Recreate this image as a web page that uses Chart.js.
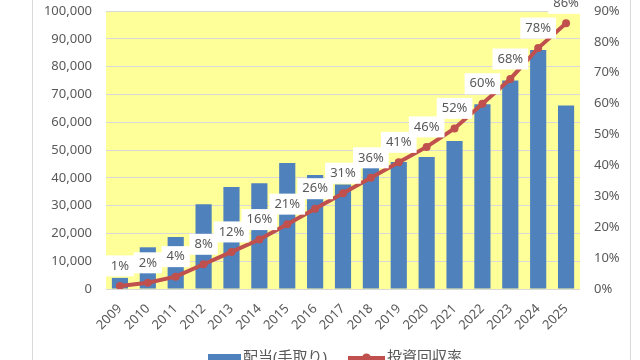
<!DOCTYPE html>
<html>
<head>
<meta charset="utf-8">
<script src="https://cdn.jsdelivr.net/npm/chart.js@4"></script>
<style>
    html, body { margin: 0; padding: 0; background: #fff; overflow: hidden; }
    #wrap { position: relative; width: 640px; height: 360px; }
</style>
</head>
<body>
<div id="wrap"><canvas id="dividendChart" width="640" height="360"></canvas></div>
<script>
const years = ['2009', '2010', '2011', '2012', '2013', '2014', '2015', '2016', '2017',
               '2018', '2019', '2020', '2021', '2022', '2023', '2024', '2025'];
const dividends = [4000, 15000, 18700, 30500, 36700, 38000, 45300, 41000, 37600,
                   43500, 45700, 47500, 53200, 66500, 75000, 86000, 66000];
const recoveryRate = [1, 2, 4, 8, 12, 16, 21, 26, 31, 36, 41, 46, 52, 60, 68, 78, 86];
const seriesNames = ['配当(手取り)', '投資回収率'];

const textColor = '#595959';
const fontFamily = "'Noto Sans', 'Noto Sans CJK JP', sans-serif";

Chart.defaults.font.family = fontFamily;
Chart.defaults.font.size = 13;
Chart.defaults.color = textColor;

// yellow plot area + chart frame lines
const backgroundPlugin = {
    id: 'plotBackground',
    beforeDraw(chart) {
        const { ctx, chartArea } = chart;
        ctx.save();
        ctx.fillStyle = '#FFFF99';
        ctx.fillRect(chartArea.left, chartArea.top, chartArea.right - chartArea.left, chartArea.bottom - chartArea.top);
        ctx.strokeStyle = '#d9d9d9';
        ctx.lineWidth = 1;
        ctx.beginPath();
        ctx.moveTo(32.5, 0); ctx.lineTo(32.5, 360);
        ctx.moveTo(630.5, 0); ctx.lineTo(630.5, 360);
        ctx.stroke();
        ctx.restore();
    }
};

// percentage labels in white boxes above the line points
const rateLabelPlugin = {
    id: 'rateLabels',
    afterDatasetsDraw(chart) {
        const { ctx } = chart;
        const meta = chart.getDatasetMeta(1);
        ctx.save();
        ctx.font = '13px ' + fontFamily;
        ctx.textAlign = 'center';
        ctx.textBaseline = 'middle';
        meta.data.forEach((pt, i) => {
            const text = recoveryRate[i] + '%';
            const w = ctx.measureText(text).width + 10;
            const h = 21;
            const cy = pt.y - 20;
            ctx.fillStyle = '#ffffff';
            ctx.fillRect(pt.x - w / 2, cy - h / 2, w, h);
            ctx.fillStyle = textColor;
            ctx.fillText(text, pt.x, cy);
        });
        ctx.restore();
    }
};

// legend at the bottom (bar box, line with marker)
const legendPlugin = {
    id: 'bottomLegend',
    afterDraw(chart) {
        const { ctx } = chart;
        const y = 358;
        ctx.save();
        ctx.fillStyle = '#4F81BD';
        ctx.fillRect(208, y - 4, 33, 8);
        ctx.strokeStyle = '#C0504D';
        ctx.lineWidth = 4;
        ctx.beginPath();
        ctx.moveTo(348, y); ctx.lineTo(385, y);
        ctx.stroke();
        ctx.fillStyle = '#C0504D';
        ctx.beginPath();
        ctx.arc(366.5, y, 4.5, 0, Math.PI * 2);
        ctx.fill();
        ctx.font = '15px ' + fontFamily;
        ctx.fillStyle = textColor;
        ctx.textBaseline = 'middle';
        ctx.fillText(seriesNames[0], 243, y);
        ctx.fillText(seriesNames[1], 387, y);
        ctx.restore();
    }
};

// keep the value axes from reserving extra room above the plot
function fitValueAxis(width) {
    return (scale) => {
        scale.width = width;
        scale.paddingTop = 0;
        scale.paddingBottom = 0;
    };
}

const ctx = document.getElementById('dividendChart').getContext('2d');
const dividendChart = new Chart(ctx, {
    type: 'bar',
    data: {
        labels: years,
        datasets: [
            {
                label: seriesNames[0],
                data: dividends,
                backgroundColor: '#4F81BD',
                barPercentage: 0.58,
                categoryPercentage: 1,
                yAxisID: 'y',
                order: 2
            },
            {
                type: 'line',
                label: seriesNames[1],
                data: recoveryRate,
                borderColor: '#C0504D',
                backgroundColor: '#C0504D',
                borderWidth: 4,
                pointRadius: 4,
                pointBorderWidth: 0,
                tension: 0,
                yAxisID: 'y1',
                order: 1
            }
        ]
    },
    options: {
        responsive: false,
        animation: false,
        layout: { padding: { top: 11, left: 0, right: 0, bottom: 0 } },
        plugins: {
            legend: { display: false },
            tooltip: { enabled: false }
        },
        scales: {
            x: {
                grid: { display: false },
                border: { display: false },
                ticks: { minRotation: 45, maxRotation: 45, autoSkip: false, padding: 4 },
                afterFit(scale) { scale.height = 71; }
            },
            y: {
                position: 'left',
                min: 0,
                max: 100000,
                grid: { color: '#d9d9d9', drawTicks: false },
                border: { display: false },
                ticks: {
                    stepSize: 10000,
                    padding: 14,
                    callback: (v) => v.toLocaleString('en-US')
                },
                afterFit: fitValueAxis(106)
            },
            y1: {
                position: 'right',
                min: 0,
                max: 90,
                grid: { display: false, drawTicks: false },
                border: { display: false },
                ticks: {
                    stepSize: 10,
                    padding: 14,
                    callback: (v) => v + '%'
                },
                afterFit: fitValueAxis(60)
            }
        }
    },
    plugins: [backgroundPlugin, rateLabelPlugin, legendPlugin]
});
</script>
</body>
</html>
